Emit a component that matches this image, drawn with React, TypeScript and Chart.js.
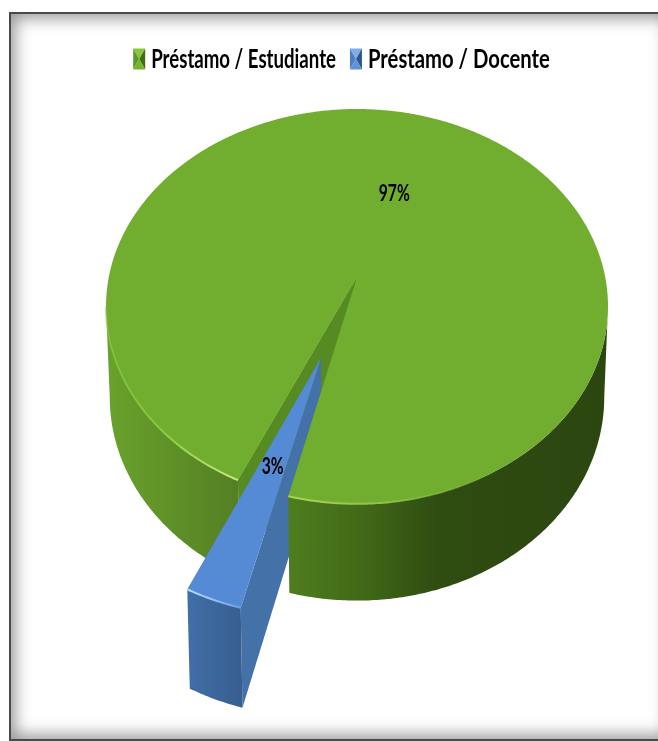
import React, { useEffect, useRef } from "react";
import { Chart, registerables } from "chart.js";

Chart.register(...registerables);

const categories = ["Préstamo / Estudiante", "Préstamo / Docente"];
const shares = [97, 3];
const sliceOffsets = [0, 110];
const sliceColors = ["#71AD2F", "#558AD4"];
const legendBevels = [
  ["#8CC63F", "#5B9A24", "#3F6E14", "#76B32E"],
  ["#7FAEE6", "#4E7FC0", "#2F5688", "#5F93D6"],
];
const legendSqueeze = [0.69, 0.75];

const CX = 357, CY = 277, RX = 248.2, KY = 193, P = 0.149, DEPTH = 90;
const LOW_SCALE_X = 0.985, LOW_SCALE_Y = 1.03;
const LABEL_SQUEEZE = 0.68;

function project(u: number, v: number, low = false): [number, number] {
  const w = 1 - P * v;
  const sx = low ? LOW_SCALE_X : 1;
  const sy = low ? LOW_SCALE_Y : 1;
  return [CX + (RX * sx * u) / w, CY + (low ? DEPTH : 0) + (KY * sy * v) / w];
}

function arcPoints(ox: number, oy: number, a0: number, a1: number, low = false) {
  const pts: [number, number][] = [];
  const n = Math.max(2, Math.ceil(Math.abs(a1 - a0) / 0.01));
  for (let i = 0; i <= n; i++) {
    const a = a0 + ((a1 - a0) * i) / n;
    pts.push(project(ox + Math.cos(a), oy + Math.sin(a), low));
  }
  return pts;
}

function fillPoly(ctx: CanvasRenderingContext2D, pts: [number, number][], fill: any) {
  ctx.beginPath();
  pts.forEach((p, i) => (i ? ctx.lineTo(p[0], p[1]) : ctx.moveTo(p[0], p[1])));
  ctx.closePath();
  ctx.fillStyle = fill;
  ctx.fill();
}

function strokePoly(ctx: CanvasRenderingContext2D, pts: [number, number][], stroke: any, width: number) {
  ctx.beginPath();
  pts.forEach((p, i) => (i ? ctx.lineTo(p[0], p[1]) : ctx.moveTo(p[0], p[1])));
  ctx.strokeStyle = stroke;
  ctx.lineWidth = width;
  ctx.stroke();
}

function xGradient(ctx: CanvasRenderingContext2D, x0: number, x1: number, stops: [number, string][]) {
  const g = ctx.createLinearGradient(x0, 0, x1, 0);
  stops.forEach(([o, c]) => g.addColorStop(o, c));
  return g;
}

function squeezedText(ctx: CanvasRenderingContext2D, text: string, x: number, y: number, size: number, squeeze: number, align: "left" | "center") {
  ctx.save();
  ctx.translate(x, y);
  ctx.scale(squeeze, 1);
  ctx.font = `bold ${size}px Lato`;
  ctx.textAlign = align;
  ctx.textBaseline = "middle";
  ctx.fillStyle = "#000";
  ctx.fillText(text, 0, 0);
  ctx.restore();
}

function legendBox(ctx: CanvasRenderingContext2D, x: number, y: number, w: number, h: number, colors: string[]) {
  const c: [number, number] = [x + w / 2, y + h / 2];
  fillPoly(ctx, [[x, y], [x + w, y], c], colors[0]);
  fillPoly(ctx, [[x, y], [x, y + h], c], colors[1]);
  fillPoly(ctx, [[x + w, y], [x + w, y + h], c], colors[2]);
  fillPoly(ctx, [[x, y + h], [x + w, y + h], c], colors[3]);
}

const pie3d = {
  id: "pie3d",
  beforeDatasetsDraw(chart: any) {
    const ctx: CanvasRenderingContext2D = chart.ctx;
    const [green, blue] = chart.getDatasetMeta(0).data;
    const R = green.outerRadius;
    const gs = green.startAngle, ge = green.endAngle;
    const bs = blue.startAngle, be = blue.endAngle;
    const bm = (bs + be) / 2;
    const off = blue.options.offset / R;
    const ox = Math.cos(bm) * off, oy = Math.sin(bm) * off;
    const edge = Math.asin(P);

    const sideGrad = xGradient(ctx, 107, 608, [
      [0, "#69A22B"], [0.26, "#557F24"], [0.36, "#4F7D1E"],
      [0.5, "#426A18"], [0.665, "#2F4C11"], [1, "#2C4610"],
    ]);

    ctx.save();

    // legend
    const gap = 18, between = 14, boxW = 12, boxH = 21, legendY = 59, legendSize = 27;
    ctx.font = `bold ${legendSize}px Lato`;
    const widths = categories.map((c, i) => ctx.measureText(c).width * legendSqueeze[i]);
    const totalW = widths.reduce((a, b) => a + b + gap, 0) + between;
    let lx = 341.5 - totalW / 2;
    categories.forEach((c, i) => {
      legendBox(ctx, lx, legendY - boxH / 2, boxW, boxH, legendBevels[i]);
      squeezedText(ctx, c, lx + gap, legendY, legendSize, legendSqueeze[i], "left");
      lx += gap + widths[i] + between;
    });

    // left outer wall of the large slice
    const top0 = arcPoints(0, 0, gs, Math.PI - edge);
    const low0 = arcPoints(0, 0, gs, Math.PI - edge, true).reverse();
    fillPoly(ctx, [...top0, ...low0], sideGrad);
    // inner wall of the notch
    const gsTop = project(Math.cos(gs), Math.sin(gs));
    const gsLow = project(Math.cos(gs), Math.sin(gs), true);
    const apex = project(0, 0);
    const apexLow = project(0, 0, true);
    const geTop = project(Math.cos(ge), Math.sin(ge));
    fillPoly(ctx, [apex, gsTop, gsLow, apexLow], "#568A22");
    fillPoly(ctx, [apex, gsTop, geTop], "#568A22");

    // small exploded slice
    const bApex = project(ox, oy);
    const bApexLow = project(ox, oy, true);
    const bsTop = project(ox + Math.cos(bs), oy + Math.sin(bs));
    const bsLow = project(ox + Math.cos(bs), oy + Math.sin(bs), true);
    fillPoly(ctx, [bApex, bsTop, bsLow, bApexLow], "#4571A9");
    const bTop = arcPoints(ox, oy, bs, be);
    const bLow = arcPoints(ox, oy, bs, be, true).reverse();
    const beTop = project(ox + Math.cos(be), oy + Math.sin(be));
    fillPoly(ctx, [...bTop, ...bLow], xGradient(ctx, beTop[0], bsTop[0], [[0, "#416FA8"], [0.6, "#3B6599"], [1, "#395E90"]]));
    fillPoly(ctx, [bApex, ...bTop], blue.options.backgroundColor);
    strokePoly(ctx, bTop, xGradient(ctx, beTop[0], bsTop[0], [[0, "#B5DCFF"], [0.5, "#8FC0F5"], [1, "#6E9FDF"]]), 2);

    // right outer wall and top of the large slice
    const top1 = arcPoints(0, 0, ge - Math.PI * 2, edge).reverse();
    const low1 = arcPoints(0, 0, ge - Math.PI * 2, edge, true);
    fillPoly(ctx, [...top1, ...low1], sideGrad);
    const topPts = arcPoints(0, 0, gs, ge);
    fillPoly(ctx, [apex, ...topPts], green.options.backgroundColor);

    // rim highlight along the front edge
    const rimL = arcPoints(0, 0, gs, Math.PI - edge);
    strokePoly(ctx, rimL, xGradient(ctx, 107, 240, [[0, "rgba(130,200,60,0.5)"], [0.4, "#8CCB3C"], [1, "#C6EC7E"]]), 2);
    const rimR = arcPoints(0, 0, 0.7, ge - Math.PI * 2);
    strokePoly(ctx, rimR, xGradient(ctx, 287, 500, [[0, "#A6D75B"], [0.5, "#8DBF45"], [1, "rgba(113,173,47,0)"]]), 2);

    // value labels
    const total = shares.reduce((a, b) => a + b, 0);
    const gm = (gs + ge) / 2;
    const l0 = project(Math.cos(gm) * 0.49, Math.sin(gm) * 0.49);
    squeezedText(ctx, Math.round((shares[0] / total) * 100) + "%", l0[0], l0[1], 23, LABEL_SQUEEZE, "center");
    const l1 = project(ox + Math.cos(bm) * 0.49, oy + Math.sin(bm) * 0.49);
    squeezedText(ctx, Math.round((shares[1] / total) * 100) + "%", l1[0], l1[1], 23, LABEL_SQUEEZE, "center");

    ctx.restore();
    return false;
  },
};

export default function App() {
  const ref = useRef<HTMLCanvasElement>(null);
  useEffect(() => {
    document.body.style.overflow = "hidden";
    const chart = new Chart(ref.current!, {
      type: "pie",
      data: {
        labels: categories,
        datasets: [{ data: shares, backgroundColor: sliceColors, offset: sliceOffsets, borderWidth: 0 }],
      },
      options: {
        responsive: false,
        animation: false,
        rotation: 204.5,
        layout: { padding: { top: 36, left: 10, right: 10, bottom: 10 } },
        plugins: {
          tooltip: { enabled: false },
          title: { display: false },
          legend: { display: false },
        },
      },
      plugins: [pie3d],
    } as any);
    return () => chart.destroy();
  }, []);
  return (
    <div style={{ position: "fixed", left: 0, top: 0, width: 658, height: 741, background: "#fff", overflow: "hidden" }}>
      <div
        style={{
          position: "absolute",
          left: 9,
          top: 12,
          width: 660,
          height: 725,
          border: "2px solid #4a4a4a",
          boxShadow: "inset 0 0 16px 4px rgba(80,80,80,0.6)",
        }}
      />
      <canvas ref={ref} width={658} height={741} style={{ position: "absolute", left: 0, top: 0, display: "block" }} />
    </div>
  );
}
